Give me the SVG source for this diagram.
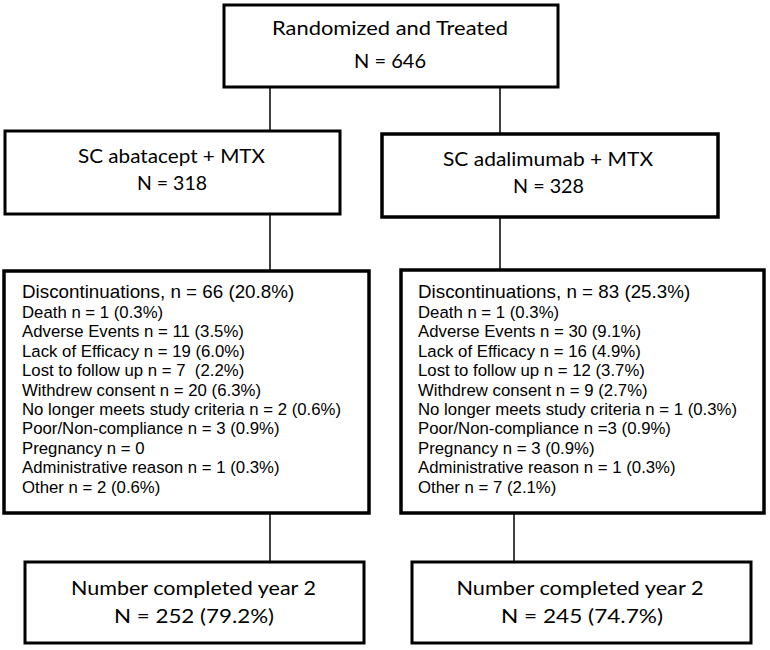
<svg xmlns="http://www.w3.org/2000/svg" width="770" height="650" viewBox="0 0 770 650">
<style>
.box{fill:#fff;stroke:#000;stroke-width:3}
.thick{stroke-width:3.5}
.hd{font-family:Lato,"Open Sans","Liberation Sans",sans-serif;font-size:20px;fill:#000;text-anchor:middle}
.big{font-family:"Liberation Sans",Arial,sans-serif;font-size:17.5px;fill:#000}
.sm{font-family:"Liberation Sans",Arial,sans-serif;font-size:15.6px;fill:#000}
.ln{stroke:#000;stroke-width:1.5;fill:none}
</style>
<rect width="770" height="650" fill="#fff"/>
<g id="connectors">
<line class="ln" x1="270" y1="87" x2="270" y2="131"/>
<line class="ln" x1="500" y1="87" x2="500" y2="134"/>
<line class="ln" x1="270" y1="214" x2="270" y2="271"/>
<line class="ln" x1="500" y1="217" x2="500" y2="270"/>
<line class="ln" x1="270" y1="513" x2="270" y2="562"/>
<line class="ln" x1="514" y1="513" x2="514" y2="562"/>
</g>
<g id="randomized">
<rect class="box" x="224" y="5" width="334" height="82"/>
<text class="hd" x="390" y="35" textLength="236" lengthAdjust="spacingAndGlyphs">Randomized and Treated</text>
<text class="hd" x="390" y="68" textLength="72" lengthAdjust="spacingAndGlyphs">N = 646</text>
</g>
<g id="abatacept">
<rect class="box" x="5" y="131" width="335" height="83"/>
<text class="hd" x="171.5" y="163" textLength="187" lengthAdjust="spacingAndGlyphs">SC abatacept + MTX</text>
<text class="hd" x="172" y="190" textLength="70" lengthAdjust="spacingAndGlyphs">N = 318</text>
</g>
<g id="adalimumab">
<rect class="box thick" x="382" y="134" width="336" height="83"/>
<text class="hd" x="548" y="166" textLength="210" lengthAdjust="spacingAndGlyphs">SC adalimumab + MTX</text>
<text class="hd" x="548.5" y="193" textLength="71" lengthAdjust="spacingAndGlyphs">N = 328</text>
</g>
<g id="disc-left">
<rect class="box thick" x="4" y="271" width="365" height="242"/>
<g transform="translate(22 0) scale(1.075 1)">
<text class="big" x="0" y="298">Discontinuations, n = 66 (20.8%)</text>
<text class="sm" x="0" y="318">Death n = 1 (0.3%)</text>
<text class="sm" x="0" y="337.4">Adverse Events n = 11 (3.5%)</text>
<text class="sm" x="0" y="356.8">Lack of Efficacy n = 19 (6.0%)</text>
<text class="sm" x="0" y="376.2" xml:space="preserve">Lost to follow up n = 7  (2.2%)</text>
<text class="sm" x="0" y="395.6">Withdrew consent n = 20 (6.3%)</text>
<text class="sm" x="0" y="415">No longer meets study criteria n = 2 (0.6%)</text>
<text class="sm" x="0" y="434.4">Poor/Non-compliance n = 3 (0.9%)</text>
<text class="sm" x="0" y="453.8">Pregnancy n = 0</text>
<text class="sm" x="0" y="473.2">Administrative reason n = 1 (0.3%)</text>
<text class="sm" x="0" y="492.6">Other n = 2 (0.6%)</text>
</g>
</g>
<g id="disc-right">
<rect class="box thick" x="401" y="270" width="363" height="243"/>
<g transform="translate(418 0) scale(1.075 1)">
<text class="big" x="0" y="298">Discontinuations, n = 83 (25.3%)</text>
<text class="sm" x="0" y="318">Death n = 1 (0.3%)</text>
<text class="sm" x="0" y="337.4">Adverse Events n = 30 (9.1%)</text>
<text class="sm" x="0" y="356.8">Lack of Efficacy n = 16 (4.9%)</text>
<text class="sm" x="0" y="376.2">Lost to follow up n = 12 (3.7%)</text>
<text class="sm" x="0" y="395.6">Withdrew consent n = 9 (2.7%)</text>
<text class="sm" x="0" y="415">No longer meets study criteria n = 1 (0.3%)</text>
<text class="sm" x="0" y="434.4">Poor/Non-compliance n =3 (0.9%)</text>
<text class="sm" x="0" y="453.8">Pregnancy n = 3 (0.9%)</text>
<text class="sm" x="0" y="473.2">Administrative reason n = 1 (0.3%)</text>
<text class="sm" x="0" y="492.6">Other n = 7 (2.1%)</text>
</g>
</g>
<g id="completed-left">
<rect class="box" x="25" y="562" width="339" height="81"/>
<text class="hd" x="193.5" y="595" textLength="245" lengthAdjust="spacingAndGlyphs">Number completed year 2</text>
<text class="hd" x="194" y="623" textLength="160" lengthAdjust="spacingAndGlyphs">N = 252 (79.2%)</text>
</g>
<g id="completed-right">
<rect class="box" x="412" y="562" width="339" height="81"/>
<text class="hd" x="580" y="595" textLength="247" lengthAdjust="spacingAndGlyphs">Number completed year 2</text>
<text class="hd" x="582" y="623" textLength="162" lengthAdjust="spacingAndGlyphs">N = 245 (74.7%)</text>
</g>
</svg>
